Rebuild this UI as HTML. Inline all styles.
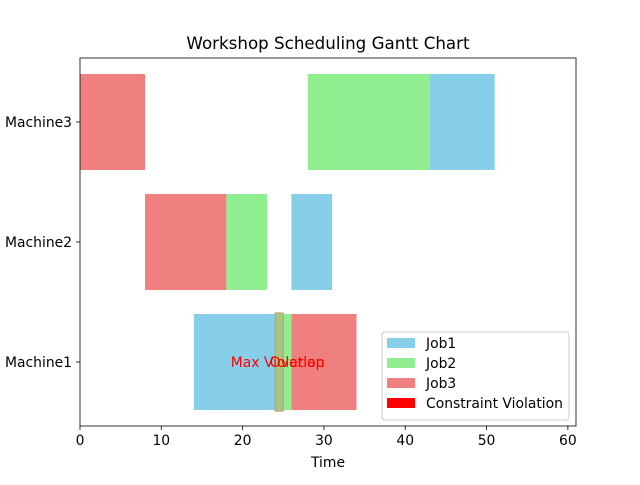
<!DOCTYPE html>
<html><head><meta charset="utf-8"><style>
body{margin:0;background:#fff;}
svg text{font-family:"DejaVu Sans","Liberation Sans",sans-serif;}
</style></head><body>
<svg id="chart" width="640" height="480" xmlns="http://www.w3.org/2000/svg">
<rect width="640" height="480" fill="#fff"/>
<text x="328" y="49" text-anchor="middle" font-size="16.7">Workshop Scheduling Gantt Chart</text>
<g id="bars"></g>
<g id="axes"></g>
</svg>
<script>
const machines = ["Machine1","Machine2","Machine3"];
const taskMachine = [2,2,2,1,1,1,0,0,0];
const taskJob = ["Job3","Job2","Job1","Job3","Job2","Job1","Job1","Job2","Job3"];
const taskStart = [0,28,43,8,18,26,14,24,26];
const taskDur = [8,15,8,10,5,5,10,2,8];
const xTicks = [0,10,20,30,40,50,60];
const violationStart = [24];
const violationDur = [1];
const jobColors = {Job1:"#87ceeb",Job2:"#90ee90",Job3:"#f08080"};
const legendLabels = ["Job1","Job2","Job3","Constraint Violation"];
const legendColors = ["#87ceeb","#90ee90","#f08080","#ff0000"];

const L=80,R=576,T=58,B=426, xmin=0,xmax=61, ymin=-0.533,ymax=2.533;
const sx=v=>L+(v-xmin)/(xmax-xmin)*(R-L);
const sy=v=>B-(v-ymin)/(ymax-ymin)*(B-T);
const NS="http://www.w3.org/2000/svg";
const bars=document.getElementById('bars'), axes=document.getElementById('axes');
function mk(tag,attrs,parent){const e=document.createElementNS(NS,tag);for(const k in attrs)e.setAttribute(k,attrs[k]);parent.appendChild(e);return e;}

taskStart.forEach((s,i)=>{
  const m=taskMachine[i];
  const r=mk('rect',{x:sx(s),y:sy(m+0.4),width:sx(s+taskDur[i])-sx(s),height:sy(m-0.4)-sy(m+0.4),fill:jobColors[taskJob[i]]},bars);
  
  
});
violationStart.forEach((s,i)=>{
  const r=mk('rect',{x:sx(s),y:sy(0.41),width:sx(s+violationDur[i])-sx(s),height:sy(-0.41)-sy(0.41),fill:"#aac482",stroke:"#c08a6a","stroke-width":1.2,"stroke-opacity":0.6},bars);
  
  
  const t1=mk('text',{x:sx(s+0.3),y:sy(0)+5,"text-anchor":"middle","font-size":13.9,fill:"#ff0000"},bars);
  t1.textContent="Max Violation";
  
  
  const t2=mk('text',{x:sx(s+2.7),y:sy(0)+5,"text-anchor":"middle","font-size":13.9,fill:"#ff0000"},bars);
  t2.textContent="Overlap";
  
  
});

const frame=mk('rect',{x:L,y:T,width:R-L,height:B-T,fill:"none",stroke:"#000","stroke-width":0.8},axes);


xTicks.forEach(v=>{
  mk('line',{x1:sx(v),x2:sx(v),y1:B,y2:B+4,stroke:"#000","stroke-width":0.8},axes);
  const t=mk('text',{x:sx(v),y:B+19,"text-anchor":"middle","font-size":13.9},axes);
  t.textContent=v;
  
  
});
machines.forEach((m,i)=>{
  mk('line',{x1:L-4,x2:L,y1:sy(i),y2:sy(i),stroke:"#000","stroke-width":0.8},axes);
  const t=mk('text',{x:L-8,y:sy(i)+5,"text-anchor":"end","font-size":13.9},axes);
  t.textContent=m;
  
  
});
const xt=mk('text',{x:(L+R)/2,y:467,"text-anchor":"middle","font-size":13.9},axes);
xt.textContent="Time";



const lg=mk('g',{},axes);


mk('rect',{x:382,y:332,width:187,height:88,rx:3,fill:"#fff","fill-opacity":0.8,stroke:"#ccc"},lg);
legendLabels.forEach((lab,i)=>{
  const y=338+i*20;
  const sw=mk('rect',{x:387,y:y,width:28,height:10,fill:legendColors[i]},lg);
  
  
  const t=mk('text',{x:426,y:y+10,"font-size":13.9},lg);
  t.textContent=lab;
  
  
});
</script>
</body></html>
